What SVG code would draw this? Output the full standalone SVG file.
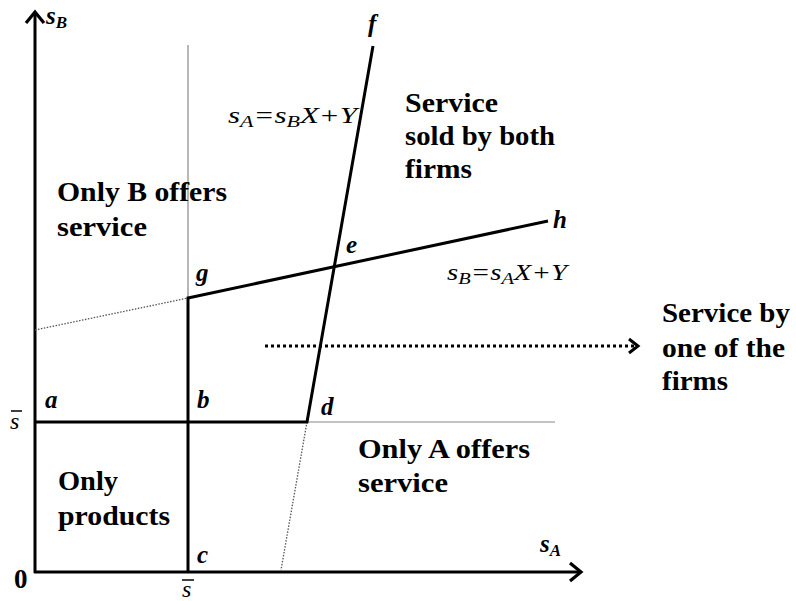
<svg xmlns="http://www.w3.org/2000/svg" width="796" height="601" viewBox="0 0 796 601">
<defs>
<marker id="chev" viewBox="0 0 16 22" refX="13" refY="11" markerWidth="16" markerHeight="22" markerUnits="userSpaceOnUse" orient="auto">
<path d="M2,2 L13,11 L2,20" fill="none" stroke="#000" stroke-width="3.2"/>
</marker>
<marker id="chev2" viewBox="0 0 14 18" refX="11" refY="9" markerWidth="14" markerHeight="18" markerUnits="userSpaceOnUse" orient="auto">
<path d="M2,2 L11,9 L2,16" fill="none" stroke="#000" stroke-width="3"/>
</marker>
</defs>
<style>
.thick{stroke:#000;stroke-width:3;fill:none}
.thin{stroke:#888;stroke-width:1.2;fill:none}
.dot{stroke:#555;stroke-width:1.3;stroke-dasharray:1.5,1.5;fill:none}
.lbl{font-family:"Liberation Serif",serif;font-weight:bold;font-size:27px;fill:#000}
.it{font-family:"Liberation Serif",serif;font-style:italic;font-size:24px;fill:#000}
.itb{font-family:"Liberation Serif",serif;font-style:italic;font-weight:bold;font-size:25px;fill:#000}
.sub{font-size:17px}
</style>
<rect width="796" height="601" fill="#fff"/>
<g id="connectors">
<line class="thick" x1="35" y1="573" x2="35" y2="12" marker-end="url(#chev)"/>
<line class="thick" x1="34" y1="572" x2="581" y2="572" marker-end="url(#chev)"/>
<line class="thin" x1="188" y1="298" x2="188" y2="45"/>
<line class="thin" x1="307" y1="422" x2="555" y2="422"/>
<line class="dot" x1="35" y1="330" x2="188" y2="298"/>
<line class="dot" x1="307" y1="422" x2="281" y2="570"/>
<polyline class="thick" points="35,422 307,422 373,46"/>
<polyline class="thick" points="188,572 188,298 548,221"/>
<line x1="265" y1="346" x2="638" y2="346" stroke="#000" stroke-width="3" stroke-dasharray="3,3" marker-end="url(#chev2)"/>
</g>
<g id="axis-labels">
<text class="itb" x="46" y="24">s<tspan class="sub" dy="4">B</tspan></text>
<text class="itb" x="540" y="552">s<tspan class="sub" dy="4">A</tspan></text>
<text class="lbl" x="14" y="588" font-size="23">0</text>
<text class="it" x="10" y="429">s</text>
<line x1="11" y1="411" x2="22" y2="411" stroke="#000" stroke-width="1.5"/>
<text class="it" x="182" y="597">s</text>
<line x1="182" y1="580" x2="194" y2="580" stroke="#000" stroke-width="1.5"/>
</g>
<g id="point-labels">
<text class="itb" x="45" y="408">a</text>
<text class="itb" x="197" y="408">b</text>
<text class="itb" x="197" y="563">c</text>
<text class="itb" x="321" y="415">d</text>
<text class="itb" x="346" y="253">e</text>
<text class="itb" x="368" y="32">f</text>
<text class="itb" x="196" y="281">g</text>
<text class="itb" x="553" y="228">h</text>
</g>
<g id="equations">
<text class="it" x="228" y="123" textLength="129" lengthAdjust="spacingAndGlyphs">s<tspan class="sub" dy="4">A</tspan><tspan dy="-4">=s</tspan><tspan class="sub" dy="4">B</tspan><tspan dy="-4">X+Y</tspan></text>
<text class="it" x="447" y="280" textLength="120" lengthAdjust="spacingAndGlyphs">s<tspan class="sub" dy="4">B</tspan><tspan dy="-4">=s</tspan><tspan class="sub" dy="4">A</tspan><tspan dy="-4">X+Y</tspan></text>
</g>
<g id="region-both">
<text class="lbl" x="405" y="112" textLength="93" lengthAdjust="spacingAndGlyphs">Service</text>
<text class="lbl" x="405" y="145" textLength="150" lengthAdjust="spacingAndGlyphs">sold by both</text>
<text class="lbl" x="405" y="178" textLength="67" lengthAdjust="spacingAndGlyphs">firms</text>
</g>
<g id="region-onlyB">
<text class="lbl" x="57" y="201" textLength="170" lengthAdjust="spacingAndGlyphs">Only B offers</text>
<text class="lbl" x="57" y="236" textLength="90" lengthAdjust="spacingAndGlyphs">service</text>
</g>
<g id="region-onlyA">
<text class="lbl" x="358" y="458" textLength="172" lengthAdjust="spacingAndGlyphs">Only A offers</text>
<text class="lbl" x="358" y="492" textLength="90" lengthAdjust="spacingAndGlyphs">service</text>
</g>
<g id="region-products">
<text class="lbl" x="58" y="490" textLength="60" lengthAdjust="spacingAndGlyphs">Only</text>
<text class="lbl" x="58" y="525" textLength="112" lengthAdjust="spacingAndGlyphs">products</text>
</g>
<g id="region-one">
<text class="lbl" x="662" y="322" textLength="128" lengthAdjust="spacingAndGlyphs">Service by</text>
<text class="lbl" x="662" y="357" textLength="123" lengthAdjust="spacingAndGlyphs">one of the</text>
<text class="lbl" x="662" y="390" textLength="66" lengthAdjust="spacingAndGlyphs">firms</text>
</g>
</svg>
